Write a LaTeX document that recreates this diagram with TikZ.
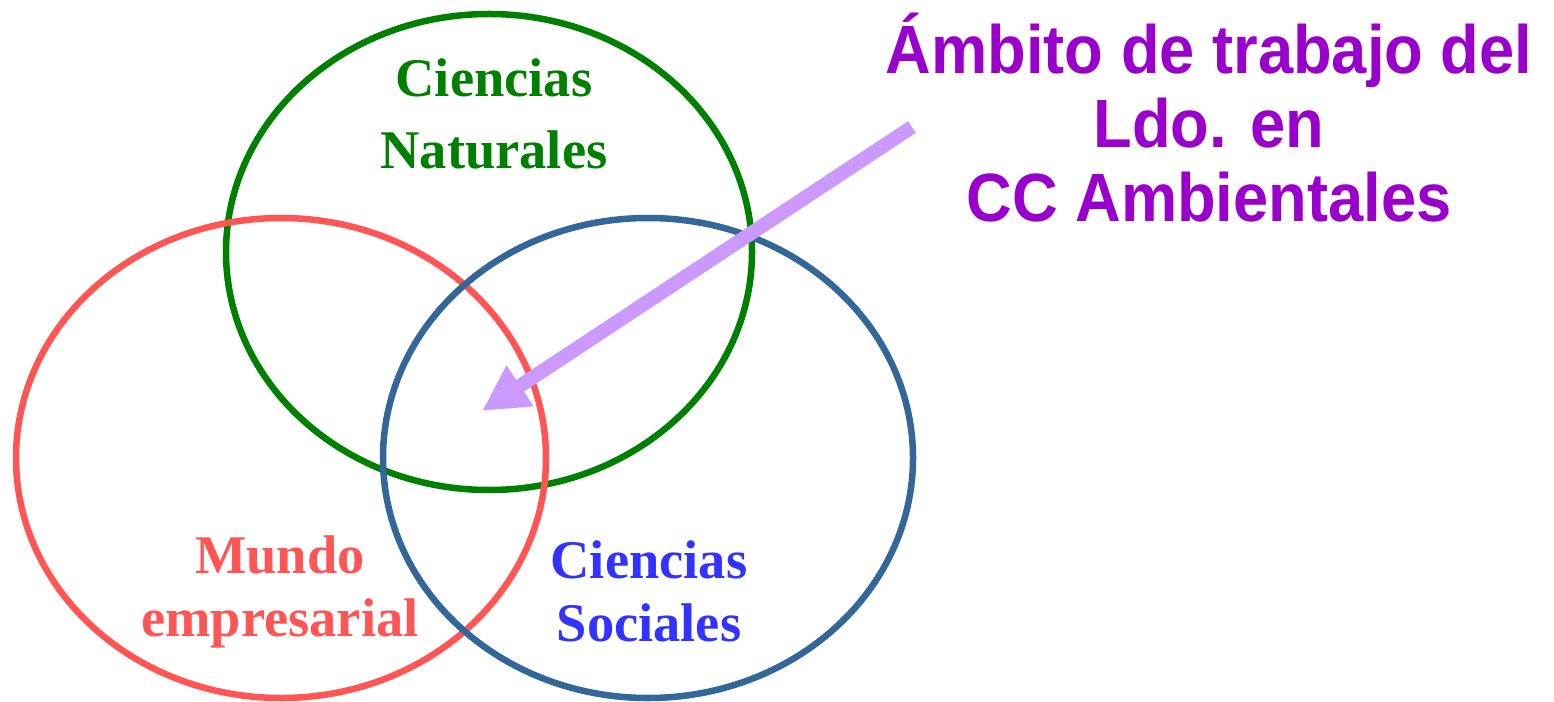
\documentclass[tikz,border=0pt]{standalone}
\usepackage{fontspec}
\setmainfont{Liberation Serif}
\newfontfamily\arialfont{Liberation Sans}
\usetikzlibrary{arrows.meta}
\definecolor{verde}{HTML}{008000}
\definecolor{rojo}{HTML}{FF5555}
\definecolor{azulc}{HTML}{336699}
\definecolor{azult}{HTML}{3333FF}
\definecolor{morado}{HTML}{9900CC}
\definecolor{lila}{HTML}{CC99FF}
\tikzset{
  circ/.style={line width=3.7pt},
  etiq/.style={align=center, font=\fontsize{31}{36}\selectfont\bfseries},
}
\begin{document}
\begin{tikzpicture}[line cap=round,x=0.02cm,y=-0.02cm]
            \useasboundingbox (0,0) rectangle (1554,702);
            \draw[circ, verde] (489,252) ellipse (263 and 238);  %naturales
            \draw[circ, rojo]  (281,458) ellipse (265 and 240);  %empresa
            \draw[circ, azulc] (648,458) ellipse (265 and 240);  %sociales
            \node[etiq, text=verde, font=\fontsize{31}{41}\selectfont\bfseries] (nat) at (494,114) {Ciencias\\Naturales};
            \node[etiq, text=rojo]  (emp) at (280,592) {Mundo\\empresarial};
            \node[etiq, text=azult] (soc) at (649,591) {Ciencias\\Sociales};
            \node[align=center, text=morado, font=\arialfont\fontsize{36}{39}\selectfont\bfseries, yscale=1.08] (amb) at (1209,118)
                 {Ámbito de trabajo del\\Ldo. en\\CC Ambientales};
            \coordinate (cola) at (912,127);
            \coordinate (punta) at (482,411);
            \draw [-{Triangle[length=26pt,width=26pt]}, line cap=butt, line width=8pt, lila] (cola) -- (punta);        % flecha
            \end{tikzpicture}
\end{document}
